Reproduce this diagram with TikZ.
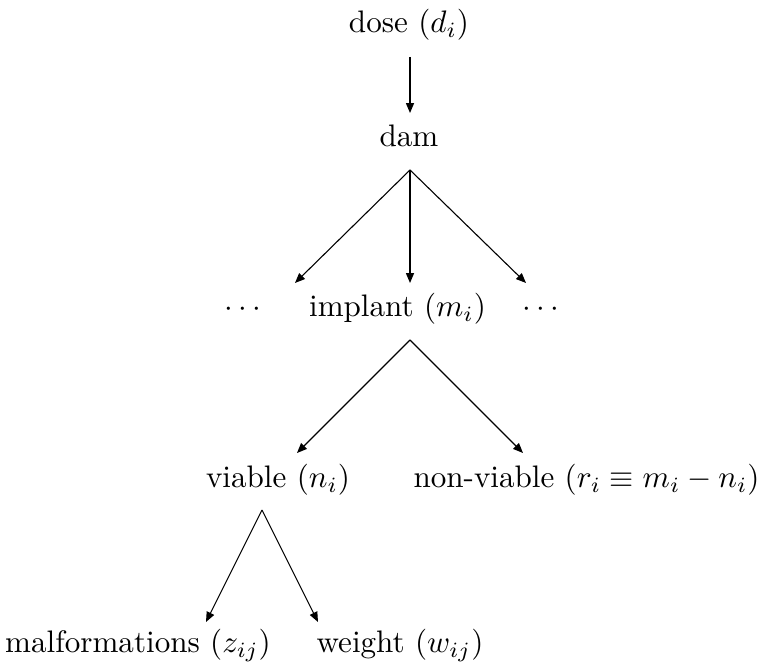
\documentclass[tikz,border=0pt]{standalone}
\usetikzlibrary{arrows.meta}
\begin{document}
\begin{tikzpicture}[x=0.3215pt,y=0.3215pt,
  lbl/.style={anchor=base,inner sep=0pt,font=\fontsize{10}{12}\selectfont},
  edge/.style={line width=0.35pt,-{Triangle[length=3.2pt,width=2.6pt]}}]
\useasboundingbox (0,0) rectangle (763,666);
% nodes
\node[lbl] (dose) at (409,633) {dose ($d_i$)};
\node[lbl] (dam) at (409,519) {dam};
\node[lbl] (dotsL) at (243,349) {$\cdots$};
\node[lbl] (implant) at (397.5,349) {implant ($m_i$)};
\node[lbl] (dotsR) at (541,349) {$\cdots$};
\node[lbl] (viable) at (278,178) {viable ($n_i$)};
\node[lbl] (nonviable) at (586.5,178) {non-viable ($r_i\equiv m_i-n_i$)};
\node[lbl] (malf) at (138,13) {malformations ($z_{ij}$)};
\node[lbl] (weight) at (400,13) {weight ($w_{ij}$)};
% connector points
\coordinate (doseS) at (410,609);
\coordinate (damN) at (410,553);
\coordinate (damS) at (410,496);
\coordinate (dotsLN) at (295,383);
\coordinate (implantN) at (410,383);
\coordinate (dotsRN) at (526,383);
\coordinate (implantS) at (410,326);
\coordinate (viableN) at (297,213);
\coordinate (nonviableN) at (523,213);
\coordinate (viableS) at (262,156);
\coordinate (malfN) at (206,44);
\coordinate (weightN) at (318,44);
% connectors
\draw[edge] (doseS) -- (damN);
\draw[edge] (damS) -- (dotsLN);
\draw[edge] (damS) -- (implantN);
\draw[edge] (damS) -- (dotsRN);
\draw[edge] (implantS) -- (viableN);
\draw[edge] (implantS) -- (nonviableN);
\draw[edge] (viableS) -- (malfN);
\draw[edge] (viableS) -- (weightN);
\end{tikzpicture}
\end{document}
